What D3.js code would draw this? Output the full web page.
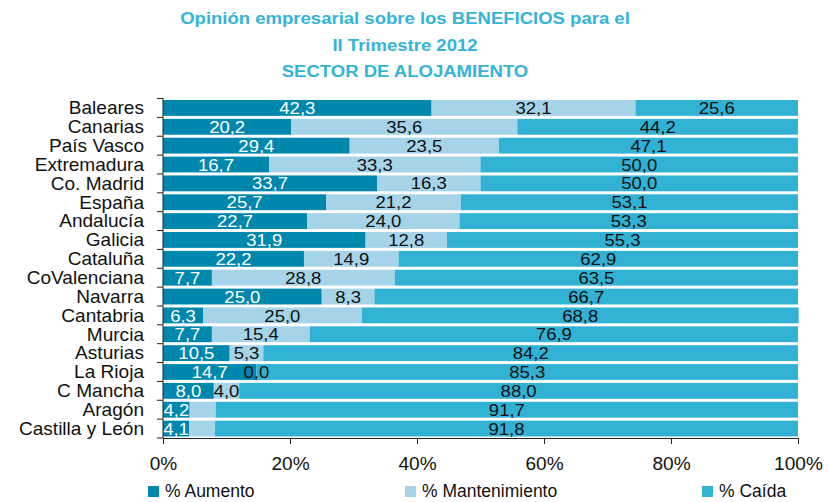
<html>
<head>
<style>
body { margin: 0; background: #fff; }
svg { font-family: "Liberation Sans", Arial, sans-serif; }
</style>
<script src="https://d3js.org/d3.v7.min.js"></script>
</head>
<body>
<svg id="chart" width="829" height="502"></svg>
<script>
// datos
const regiones = ['Baleares','Canarias','País Vasco ','Extremadura','Co. Madrid','España','Andalucía','Galicia','Cataluña','CoValenciana','Navarra','Cantabria','Murcia','Asturias','La Rioja','C Mancha','Aragón','Castilla y León'];
const aumento = [42.3,20.2,29.4,16.7,33.7,25.7,22.7,31.9,22.2,7.7,25.0,6.3,7.7,10.5,14.7,8.0,4.2,4.1];
const mantenimiento = [32.1,35.6,23.5,33.3,16.3,21.2,24.0,12.8,14.9,28.8,8.3,25.0,15.4,5.3,0.0,4.0,4.1,4.1];
const caida = [25.6,44.2,47.1,50.0,50.0,53.1,53.3,55.3,62.9,63.5,66.7,68.8,76.9,84.2,85.3,88.0,91.7,91.8];
const sinEtiqueta = ['Aragón','Castilla y León']; // mantenimiento sin etiqueta
const series = ['% Aumento','% Mantenimiento','% Caída'];
const ticks = [0,20,40,60,80,100];
const titulo = ['Opinión empresarial sobre los BENEFICIOS para el','II Trimestre 2012','SECTOR DE ALOJAMIENTO'];

const colores = ['#0087ad','#a5d3e8','#31b1d4'];
const svg = d3.select('#chart');
const ancho = 1.09; // el original tiene el texto algo estirado

const x = d3.scaleLinear().domain([0,100]).range([163,798]);
const y = d3.scaleBand().domain(regiones).range([98.5,438]).paddingInner(0.16).paddingOuter(0.08);
const fmt = d3.formatLocale({decimal: ',', thousands: '.', grouping: [3], currency: ['','€']}).format('.1f');

const tabla = regiones.map((r,i) => ({region: r, a: aumento[i], m: mantenimiento[i], c: caida[i]}));
const stack = d3.stack().keys(['a','m','c'])(tabla);

const pos = (px, py) => 'translate(' + px + ',' + py + ') scale(' + ancho + ',1)';

// titulo
svg.append('g').selectAll('text').data(titulo).join('text')
  .attr('transform', (d,i) => pos(405, 24 + i*26.5))
  .attr('text-anchor','middle')
  .attr('font-size', 17).attr('font-weight','bold')
  .attr('fill','#33b4d8')
  .text(d => d);

// barras
const capas = svg.append('g').selectAll('g').data(stack).join('g')
  .attr('fill', (d,i) => colores[i]);
capas.selectAll('rect').data(d => d).join('rect')
  .attr('x', d => x(d[0]))
  .attr('y', d => y(d.data.region))
  .attr('width', d => x(d[1]) - x(d[0]))
  .attr('height', y.bandwidth());

// etiquetas
stack.forEach((s,i) => {
  svg.append('g').selectAll('text')
    .data(s.filter(d => !(i === 1 && sinEtiqueta.includes(d.data.region))))
    .join('text')
    .attr('transform', d => pos(x((d[0] + d[1]) / 2), y(d.data.region) + y.bandwidth()/2))
    .attr('dy','0.36em')
    .attr('text-anchor','middle')
    .attr('font-size', 17)
    .attr('fill', i === 0 ? '#fff' : '#111')
    .text(d => fmt(d[1] - d[0]));
});

// eje y
const ejeY = svg.append('g');
ejeY.append('line').attr('x1',163).attr('x2',163).attr('y1',98).attr('y2',438).attr('stroke','#222');
const limites = regiones.map(r => y(r) - y.step()*y.paddingInner()/2).concat([438]);
limites[0] = 98.5;
ejeY.selectAll('.tk').data(limites).join('line')
  .attr('x1',157).attr('x2',163).attr('y1', d => d).attr('y2', d => d).attr('stroke','#222');
ejeY.selectAll('text').data(regiones).join('text')
  .attr('transform', r => pos(144, y(r) + y.bandwidth()/2)).attr('dy','0.36em')
  .attr('text-anchor','end').attr('font-size',17.5).attr('fill','#111')
  .text(r => r);

// eje x
const ejeX = svg.append('g').attr('transform','translate(0,438)')
  .call(d3.axisBottom(x).tickValues(ticks).tickSize(6).tickPadding(14).tickFormat(d => d + '%'));
ejeX.select('.domain').attr('stroke','#222');
ejeX.selectAll('.tick line').attr('stroke','#222');
ejeX.selectAll('.tick text').attr('font-size',17.5).attr('font-family','"Liberation Sans", Arial, sans-serif')
  .attr('fill','#111').attr('transform','scale(' + ancho + ',1)');

// leyenda
const posLeyenda = [148,405,702];
const ley = svg.append('g').selectAll('g').data(series).join('g')
  .attr('transform', (d,i) => 'translate(' + posLeyenda[i] + ',486)');
ley.append('rect').attr('width',11).attr('height',11).attr('fill', (d,i) => colores[i]);
ley.append('text').attr('x',17).attr('y',11).attr('font-size',17.5).attr('fill','#111').text(d => d);
</script>
</body>
</html>
